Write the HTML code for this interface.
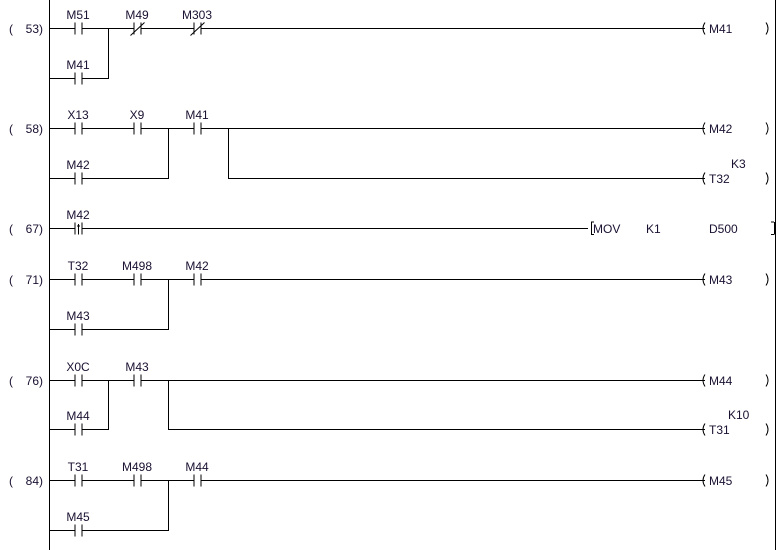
<!DOCTYPE html>
<html><head><meta charset="utf-8"><style>
html,body{margin:0;padding:0;background:#fff;width:783px;height:550px;overflow:hidden}
svg{display:block}
text{font-family:"Liberation Sans",Arial,sans-serif;font-size:12px;fill:#1a1030}
.w{stroke:#000;stroke-width:1;fill:none}
.lb{text-anchor:middle}
</style></head><body>
<svg width="783" height="550" viewBox="0 0 783 550" xmlns="http://www.w3.org/2000/svg" shape-rendering="crispEdges">
<defs>
<g id="no"><rect x="-3" y="-7" width="6" height="14" fill="#fff"/><path class="w" d="M-3.5 -6V6M3.5 -6V6"/></g>
<g id="nc"><rect x="-3" y="-7" width="6" height="14" fill="#fff"/><path class="w" d="M-3.5 -6V6M3.5 -6V6"/><path d="M-7 7L7 -6" stroke="#000" stroke-width="1" shape-rendering="auto"/></g>
<g id="pl"><rect x="-3" y="-7" width="6" height="14" fill="#fff"/><path class="w" d="M-3.5 -6V6M3.5 -6V6M0 -3V6"/><path d="M-1.5 -2L0 -5L1.5 -2Z" fill="#000"/></g>
<g id="co"><path d="M4 -6Q0 0 4 6" class="w" shape-rendering="auto"/><path d="M65 -6Q69 0 65 6" class="w" shape-rendering="auto"/></g>
</defs>
<!-- rails -->
<path class="w" d="M49.5 0V550M775.5 0V550"/>

<!-- rung 53 -->
<text x="9" y="33">(</text><text x="43" y="33" text-anchor="end">53)</text>
<path class="w" d="M49 28.5H705M49 78.5H108.5V28"/>
<use href="#no" x="78.5" y="28.5"/><use href="#nc" x="137.5" y="28.5"/><use href="#nc" x="197.5" y="28.5"/>
<use href="#no" x="78.5" y="78.5"/>
<text class="lb" x="78" y="19">M51</text><text class="lb" x="137" y="19">M49</text><text class="lb" x="197" y="19">M303</text>
<text class="lb" x="78" y="69">M41</text>
<use href="#co" x="701" y="28.5"/><text x="709" y="33">M41</text>

<!-- rung 58 -->
<text x="9" y="133">(</text><text x="43" y="133" text-anchor="end">58)</text>
<path class="w" d="M49 128.5H705M49 178.5H168.5V128M228.5 128V178.5H705"/>
<use href="#no" x="78.5" y="128.5"/><use href="#no" x="137.5" y="128.5"/><use href="#no" x="197.5" y="128.5"/>
<use href="#no" x="78.5" y="178.5"/>
<text class="lb" x="78" y="119">X13</text><text class="lb" x="137" y="119">X9</text><text class="lb" x="197" y="119">M41</text>
<text class="lb" x="78" y="169">M42</text>
<use href="#co" x="701" y="128.5"/><text x="709" y="133">M42</text>
<use href="#co" x="701" y="178.5"/><text x="709" y="183">T32</text><text x="731" y="168">K3</text>

<!-- rung 67 -->
<text x="9" y="233">(</text><text x="43" y="233" text-anchor="end">67)</text>
<path class="w" d="M49 228.5H588"/>
<path class="w" d="M591.5 222V234.5M591 222H594M591 234.5H594"/>
<use href="#pl" x="78.5" y="228.5"/>
<text class="lb" x="78" y="219">M42</text>
<text x="593" y="233">MOV</text><text x="646" y="233">K1</text><text x="709" y="233">D500</text>
<path class="w" d="M774.5 222V234.5M771 222H774M771 234.5H774"/>

<!-- rung 71 -->
<text x="9" y="284">(</text><text x="43" y="284" text-anchor="end">71)</text>
<path class="w" d="M49 279.5H705M49 329.5H168.5V279"/>
<use href="#no" x="78.5" y="279.5"/><use href="#no" x="137.5" y="279.5"/><use href="#no" x="197.5" y="279.5"/>
<use href="#no" x="78.5" y="329.5"/>
<text class="lb" x="78" y="270">T32</text><text class="lb" x="137" y="270">M498</text><text class="lb" x="197" y="270">M42</text>
<text class="lb" x="78" y="320">M43</text>
<use href="#co" x="701" y="279.5"/><text x="709" y="284">M43</text>

<!-- rung 76 -->
<text x="9" y="385">(</text><text x="43" y="385" text-anchor="end">76)</text>
<path class="w" d="M49 380.5H705M49 429.5H108.5V380M168.5 380V429.5H705"/>
<use href="#no" x="78.5" y="380.5"/><use href="#no" x="137.5" y="380.5"/>
<use href="#no" x="78.5" y="429.5"/>
<text class="lb" x="78" y="371">X0C</text><text class="lb" x="137" y="371">M43</text>
<text class="lb" x="78" y="420">M44</text>
<use href="#co" x="701" y="380.5"/><text x="709" y="385">M44</text>
<use href="#co" x="701" y="429.5"/><text x="709" y="434">T31</text><text x="728" y="419">K10</text>

<!-- rung 84 -->
<text x="9" y="485">(</text><text x="43" y="485" text-anchor="end">84)</text>
<path class="w" d="M49 480.5H705M49 530.5H168.5V480"/>
<use href="#no" x="78.5" y="480.5"/><use href="#no" x="137.5" y="480.5"/><use href="#no" x="197.5" y="480.5"/>
<use href="#no" x="78.5" y="530.5"/>
<text class="lb" x="78" y="471">T31</text><text class="lb" x="137" y="471">M498</text><text class="lb" x="197" y="471">M44</text>
<text class="lb" x="78" y="521">M45</text>
<use href="#co" x="701" y="480.5"/><text x="709" y="485">M45</text>
</svg>
</body></html>
